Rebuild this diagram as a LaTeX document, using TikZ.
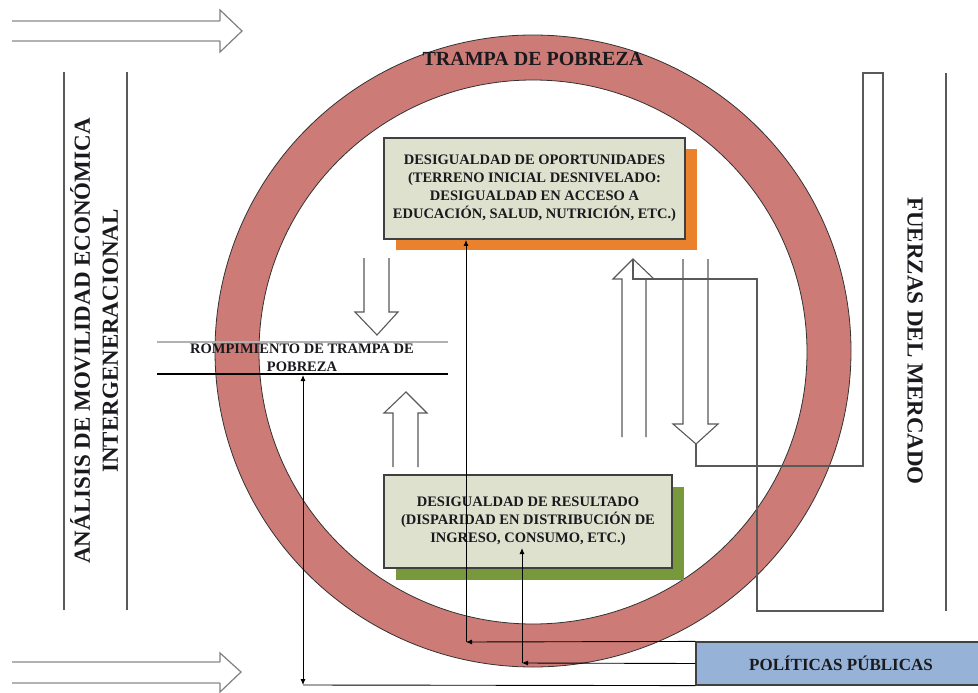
\documentclass[tikz,border=0pt]{standalone}
\usepackage{fontspec}
\setmainfont{Liberation Serif}
\usetikzlibrary{arrows.meta,shadows}
\definecolor{ringc}{RGB}{205,123,118}
\definecolor{boxc}{RGB}{221,225,206}
\definecolor{orng}{RGB}{233,129,45}
\definecolor{grn}{RGB}{120,152,60}
\definecolor{blu}{RGB}{150,178,214}
\definecolor{txt}{RGB}{25,25,30}
\begin{document}
\begin{tikzpicture}[x=1pt,y=-1pt,
  box/.style={draw=black!75, line width=1.8pt, fill=boxc, align=center, text=txt,
    font=\bfseries\fontsize{14.5}{18}\selectfont, inner sep=0pt},
  conn/.style={black, line width=0.9pt},
  tip/.style={-{Latex[length=6pt,width=5pt]}},
  hollow/.style={draw=black!65, line width=1.1pt, line join=miter},
  dbl/.style={black!30, line width=2.4pt},
  dblhead/.style={black!50, line width=1.2pt, line join=miter},
  vline/.style={black!65, line width=1.2pt},
  ringline/.style={black!80, line width=0.8pt}]
\useasboundingbox (0,0) rectangle (978,693);
\fill[white] (0,0) rectangle (978,693);

% ring
\fill[ringc, even odd rule] (533,351) ellipse [x radius=318, y radius=316]
  (533,352) ellipse [x radius=274, y radius=272];
\draw[ringline] (533,351) ellipse [x radius=318, y radius=316];
\draw[ringline] (533,352) ellipse [x radius=274, y radius=272];
\node[font=\bfseries\fontsize{20}{24}\selectfont, text=txt] (title) at (533,59) {TRAMPA DE POBREZA};

% double arrows left
\draw[dbl] (12,21) -- (220,21);
\draw[dbl] (12,41) -- (220,41);
\draw[dblhead] (220,21) -- (220,10) -- (242,31) -- (220,52) -- (220,41);
\draw[dbl] (12,662) -- (220,662);
\draw[dbl] (12,683) -- (220,683);
\draw[dblhead] (220,662) -- (220,653) -- (241,672) -- (220,692) -- (220,683);

% side frames
\draw[vline] (64,72) -- (64,610);
\draw[vline] (127,72) -- (127,610);
\draw[vline] (946,73) -- (946,611);
\node[rotate=90, align=center, text=txt, font=\bfseries\fontsize{23}{28}\selectfont] (left) at (94,341)
  {ANÁLISIS DE MOVILIDAD ECONÓMICA\\INTERGENERACIONAL};
\node[rotate=-90, text=txt, font=\bfseries\fontsize{23}{28}\selectfont] (right) at (915,341)
  {FUERZAS DEL MERCADO};

% boxes
\node[box, minimum width=301pt, minimum height=101pt,
  drop shadow={shadow xshift=12pt, shadow yshift=-11pt, fill=orng, opacity=1, draw=none}]
  (opp) at (534.5,188.5)
  {DESIGUALDAD DE OPORTUNIDADES\\(TERRENO INICIAL DESNIVELADO:\\DESIGUALDAD EN ACCESO A\\EDUCACIÓN, SALUD, NUTRICIÓN, ETC.)};
\node[box, minimum width=288pt, minimum height=93pt,
  drop shadow={shadow xshift=12pt, shadow yshift=-12pt, fill=grn, opacity=1, draw=none}]
  (res) at (528,521.5)
  {DESIGUALDAD DE RESULTADO\\(DISPARIDAD EN DISTRIBUCIÓN DE\\INGRESO, CONSUMO, ETC.)};
\node[draw=black!75, line width=1.2pt, fill=blu, minimum width=284pt, minimum height=43pt,
  inner sep=0pt, text=txt, font=\bfseries\fontsize{17}{20}\selectfont] (pp) at (838,663.5) {};
\node[text=txt, font=\bfseries\fontsize{17}{20}\selectfont] (pptext) at (841,663) {POLÍTICAS PÚBLICAS};

% rompimiento
\draw[black!30, line width=1.5pt] (157,342) -- (448,342);
\draw[black, line width=1.5pt] (157,374) -- (448,374);
\node[align=center, text=txt, font=\bfseries\fontsize{14.5}{18}\selectfont] (romp) at (302,358)
  {ROMPIMIENTO DE TRAMPA DE\\POBREZA};
\coordinate (rb) at (303,375);

% hollow arrows centre
\draw[hollow] (364,258) -- (364,312) -- (355,312) -- (377,335) -- (398,312) -- (389,312) -- (389,258);
\draw[hollow] (393,467) -- (393,413) -- (384,413) -- (406,392) -- (427,413) -- (418,413) -- (418,467);
% hollow arrows right
\draw[hollow] (622,437) -- (622,279) -- (613,279) -- (633,259) -- (654,279) -- (646,279) -- (646,437);
\draw[hollow] (683,259) -- (683,424) -- (673,424) -- (696,444) -- (718,424) -- (708,424) -- (708,259);
\draw[hollow] (696,444) -- (696,466) -- (863,466) -- (863,73) -- (883,73) -- (883,611)
  -- (757,611) -- (757,279) -- (633,279) -- (633,259);

% connectors from politicas publicas
\coordinate (c1) at (466,642);
\coordinate (c2) at (522,663);
\coordinate (c3) at (303,685);
\coordinate (r2) at (522,548);
\draw[conn, tip] (pp.north west) -- (c1);
\draw[conn, tip] (c1) -- (c1 |- opp.south);
\draw[conn, tip] (pp.west) -- (c2);
\draw[conn, tip] (c2) -- (r2);
\draw[conn] (pp.south west) -- (c3);
\draw[conn, {Latex[length=6pt,width=5pt]}-{Latex[length=6pt,width=5pt]}] (c3) -- (rb);
\end{tikzpicture}
\end{document}
